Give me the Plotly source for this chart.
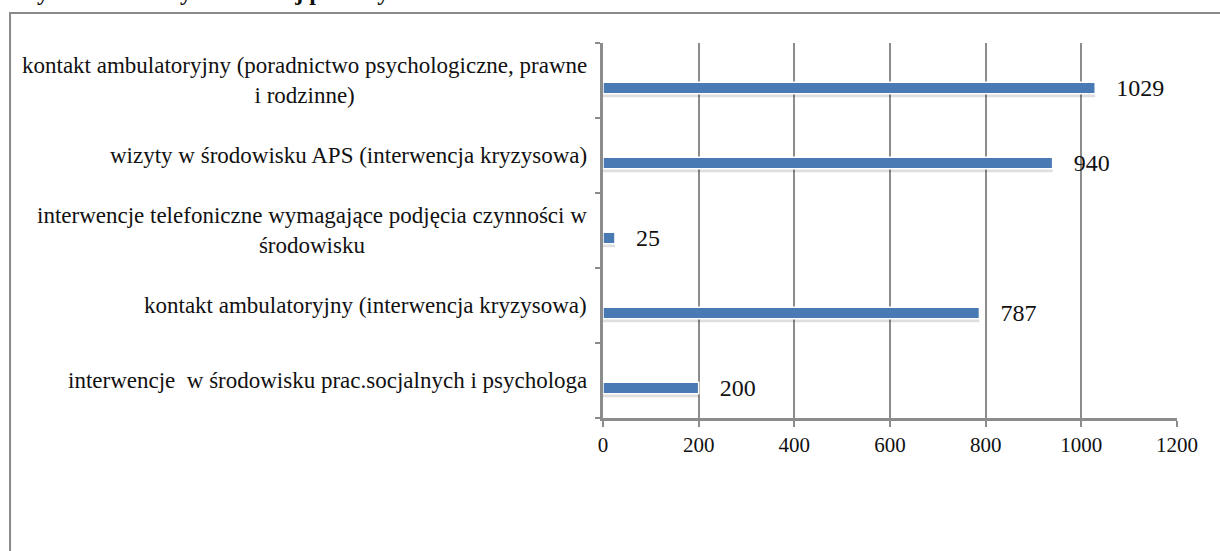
import plotly.graph_objects as go

# dane wykresu (od dołu do góry)
categories = [
    "interwencje  w środowisku prac.socjalnych i psychologa",
    "kontakt ambulatoryjny (interwencja kryzysowa)",
    "interwencje telefoniczne wymagające podjęcia czynności w<br>środowisku",
    "wizyty w środowisku APS (interwencja kryzysowa)",
    "kontakt ambulatoryjny (poradnictwo psychologiczne, prawne<br>i rodzinne)",
]
values = [200, 787, 25, 940, 1029]
x_ticks = [0, 200, 400, 600, 800, 1000, 1200]

TITLE = "Wykres 9. Formy udzielonej pomocy w 2015 r."
BAR_COLOR = "#4a7ab4"
GRID = "#8c8c8c"
FONT = "Liberation Serif"
BAR_W = 0.155
BAR_OFF = -0.1 - BAR_W / 2   # słupek przesunięty w dół w obrębie kategorii (jak w Excelu)

fig = go.Figure()

# cień pod słupkami
fig.add_trace(go.Bar(
    x=values,
    y=list(range(len(categories))),
    orientation="h",
    width=BAR_W,
    offset=BAR_OFF - 0.045,
    marker=dict(color="rgba(0,0,0,0.13)", line=dict(width=0)),
    hoverinfo="skip",
    showlegend=False,
))

fig.add_trace(go.Bar(
    x=values,
    y=list(range(len(categories))),
    orientation="h",
    width=BAR_W,
    offset=BAR_OFF,
    marker=dict(color=BAR_COLOR, line=dict(color="white", width=1.5)),
    text=["\u00a0\u00a0\u00a0" + str(v) for v in values],
    textposition="outside",
    constraintext="none",
    textfont=dict(family=FONT, size=24, color="#111111"),
    cliponaxis=False,
    showlegend=False,
))

# etykiety kategorii - wyśrodkowane wiersze
for i, c in enumerate(categories):
    fig.add_annotation(
        x=0, xref="paper", xanchor="right", xshift=-14,
        y=i, yref="y", yanchor="middle",
        text=c, align="center", showarrow=False,
        font=dict(family=FONT, size=23, color="#111111"),
    )

# tytuł (ucięty u góry)
fig.add_annotation(
    x=-1.0296, xref="paper", xanchor="left",
    y=1.097, yref="paper", yanchor="bottom",
    text="<b>" + TITLE + "</b>", showarrow=False,
    font=dict(family=FONT, size=24, color="#111111"),
)

# ramka wykresu
fig.add_shape(
    type="rect", xref="paper", yref="paper",
    x0=-1.033, x1=1.3, y0=-0.6, y1=1.08,
    line=dict(color="#8a8a8a", width=2), fillcolor="rgba(0,0,0,0)",
    layer="below",
)

fig.update_xaxes(
    range=[0, 1200],
    tickvals=x_ticks,
    showgrid=True, gridcolor=GRID, gridwidth=1.5,
    showline=True, linecolor=GRID, linewidth=2.5,
    ticks="outside", ticklen=6, tickcolor=GRID, tickwidth=1.5,
    tickfont=dict(family=FONT, size=21, color="#111111"),
    zeroline=False,
)
fig.update_yaxes(
    range=[-0.5, 4.5],
    tickvals=[-0.5, 0.5, 1.5, 2.5, 3.5, 4.5],
    showticklabels=False,
    showgrid=False,
    showline=True, linecolor=GRID, linewidth=2.5,
    ticks="outside", ticklen=5, tickcolor=GRID, tickwidth=1.5,
    zeroline=False,
)

fig.update_layout(
    width=1220, height=551,
    margin=dict(l=603, r=43, t=43, b=133),
    paper_bgcolor="white", plot_bgcolor="white",
    font=dict(family=FONT),
    barmode="overlay",
)

# bez marginesu strony, żeby wykres zaczynał się w (0, 0)
fig.write_html(
    "out.html",
    config={"displayModeBar": False},
    post_script="document.body.style.margin='0';",
)
